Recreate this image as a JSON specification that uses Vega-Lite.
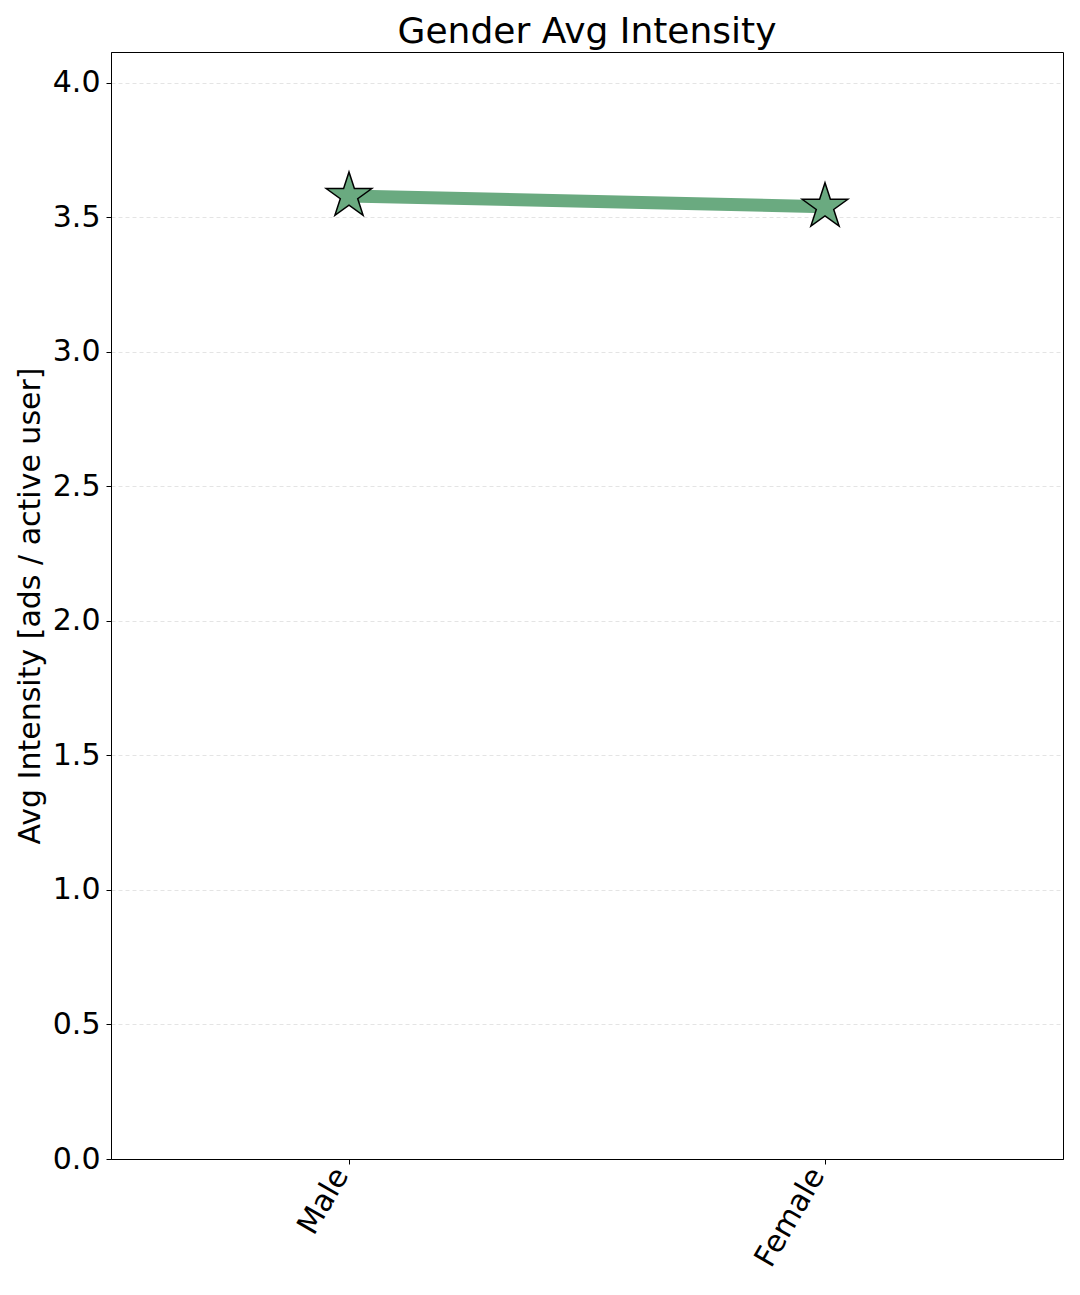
{
  "$schema": "https://vega.github.io/schema/vega-lite/v6.json",
  "autosize": {"type": "none"},
  "padding": {"left": 111, "top": 52, "right": 17, "bottom": 136},
  "width": 952,
  "height": 1107,
  "background": "white",
  "title": {"text": "Gender Avg Intensity", "fontSize": 36, "font": "DejaVu Sans", "fontWeight": "normal", "color": "black", "offset": 1},
  "config": {
    "view": {"stroke": "black", "strokeWidth": 1}
  },
  "data": {"values": [
    {"gender": "Male", "intensity": 3.58},
    {"gender": "Female", "intensity": 3.54}
  ]},
  "encoding": {
    "x": {"field": "gender", "type": "nominal", "sort": ["Male", "Female"],
      "scale": {"type": "point", "padding": 0.5},
      "axis": {"title": null, "labelAngle": -60, "labelFontSize": 30, "labelFont": "DejaVu Sans", "labelColor": "black", "grid": false, "domain": true, "domainColor": "black", "domainWidth": 1, "tickColor": "black", "tickSize": 5, "labelPadding": 6, "labelOffset": -8}},
    "y": {"field": "intensity", "type": "quantitative",
      "scale": {"domain": [0, 4.115], "nice": false},
      "axis": {"title": "Avg Intensity [ads / active user]", "titleFontSize": 30, "titleFont": "DejaVu Sans", "titleColor": "black", "titleFontWeight": "normal", "labelFontSize": 30, "labelFont": "DejaVu Sans", "labelColor": "black", "domain": true, "domainColor": "black", "domainWidth": 1, "tickColor": "black", "tickSize": 5, "values": [0, 0.5, 1, 1.5, 2, 2.5, 3, 3.5, 4], "format": ".1f", "grid": true, "gridColor": "#dddddd", "gridDash": [4, 3], "gridWidth": 0.8, "titlePadding": 7, "labelPadding": 6}}
  },
  "layer": [
    {"mark": {"type": "line", "stroke": "#6aaa80", "strokeWidth": 13}},
    {"mark": {"type": "point", "shape": "M0,-1L0.2245,-0.309L0.9511,-0.309L0.3633,0.118L0.5878,0.809L0,0.382L-0.5878,0.809L-0.3633,0.118L-0.9511,-0.309L-0.2245,-0.309Z", "fill": "#6aaa80", "fillOpacity": 1, "stroke": "black", "strokeWidth": 1.5, "size": 2300, "opacity": 1}}
  ]
}
